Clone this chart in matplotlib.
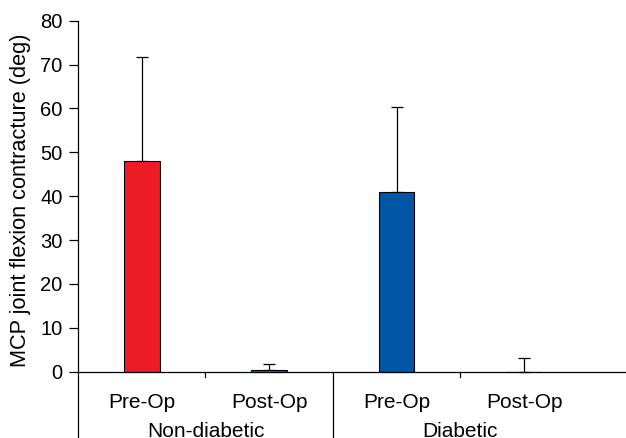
import matplotlib
matplotlib.use("Agg")
import matplotlib.pyplot as plt

# ---------------- dane ----------------
grupy = ["Non-diabetic", "Diabetic"]
etykiety = ["Pre-Op", "Post-Op", "Pre-Op", "Post-Op"]
srednie = [48.0, 0.5, 40.9, 0.0]
sd_gora = [23.7, 1.3, 19.4, 3.2]
kolory = ["#ED1C24", "#ED1C24", "#0055A5", "#0055A5"]

plt.rcParams["font.family"] = ["Liberation Sans", "DejaVu Sans"]
rozmiar = 15

fig = plt.figure(figsize=(6.26, 4.38), dpi=100)
ax = fig.add_axes([0.1246, 0.0, 0.8754, 0.9527])

x = list(range(len(srednie)))
ax.bar(x, srednie, width=0.28, color=kolory, edgecolor="black", linewidth=0.8, zorder=3)
ax.errorbar(x, srednie, yerr=[[0] * len(srednie), sd_gora], fmt="none",
            ecolor="black", elinewidth=0.9, capsize=4, capthick=0.9, zorder=2)

y_dol = -15.1
ax.set_xlim(-0.5, 3.8)
ax.set_ylim(y_dol, 80)

for s in ["top", "right", "bottom"]:
    ax.spines[s].set_visible(False)
ax.spines["left"].set_linewidth(0.9)

ax.axhline(0, color="black", linewidth=0.9, zorder=4)
ax.set_xticks([])
ax.set_yticks(range(0, 81, 10))
ax.tick_params(axis="y", labelsize=14.5, length=6.5, width=0.9, pad=4.5)
ax.set_ylabel("MCP joint flexion contracture (deg)", fontsize=15.7)
ax.yaxis.set_label_coords(-0.0849, 0.570)

# kreski miedzy kategoriami
ax.plot([0.5, 0.5], [0, -1.2], color="black", linewidth=0.9, clip_on=False)
ax.plot([2.5, 2.5], [0, -1.2], color="black", linewidth=0.9, clip_on=False)
ax.plot([1.5, 1.5], [0, y_dol], color="black", linewidth=0.9, clip_on=False)

for xi, lab in zip(x, etykiety):
    ax.text(xi, -8.27, lab, ha="center", va="baseline", fontsize=rozmiar)
for gi, g in enumerate(grupy):
    ax.text(0.5 + 2 * gi, -14.8, g, ha="center", va="baseline", fontsize=rozmiar)

fig.savefig("out.png", dpi=100)
